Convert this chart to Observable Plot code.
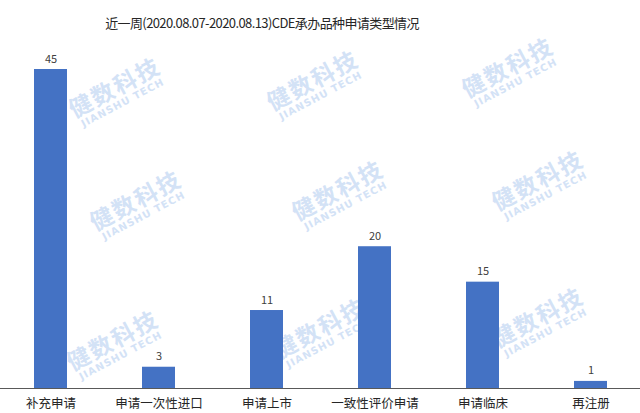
<!DOCTYPE html>
<html>
<head>
<meta charset="utf-8">
<script src="https://cdn.jsdelivr.net/npm/d3@7"></script>
<script src="https://cdn.jsdelivr.net/npm/@observablehq/plot@0.6"></script>
<style>
  html, body { margin: 0; padding: 0; background: #fff; }
  #wrap { position: relative; width: 640px; height: 413px; overflow: hidden; font-family: "Noto Sans CJK SC", "Noto Sans", sans-serif; }
  #head { position: relative; height: 40px; }
  #title { position: absolute; left: 262px; top: 22px; transform: translate(-50%, -50%); white-space: nowrap; font-size: 13px; color: #262626; letter-spacing: -0.6px; }
  #chart svg { display: block; }
  .wm { position: absolute; transform: translate(-50%, -50%) rotate(-28deg); color: #d3e2f6; text-align: center; pointer-events: none; line-height: 1; white-space: nowrap; }
  .wm .cn { font-size: 23px; font-weight: 700; letter-spacing: 2px; }
  .wm .en { font-size: 10px; font-weight: 700; font-family: "DejaVu Sans", sans-serif; letter-spacing: 1px; margin-top: 2px; }
</style>
</head>
<body>
<div id="wrap">
  <div id="head"><div id="title">近一周(2020.08.07-2020.08.13)CDE承办品种申请类型情况</div></div>
  <div id="chart"></div>
</div>
<script>
// Application types and weekly counts
const categories = ["补充申请", "申请一次性进口", "申请上市", "一致性评价申请", "申请临床", "再注册"];
const counts = [45, 3, 11, 20, 15, 1];

const rows = categories.map((c, i) => ({category: c, count: counts[i]}));

// Brand watermark tiles (centres in page pixels), drawn under the bars
const marks = [[117, 92], [315, 85], [510, 72], [138, 205], [340, 195], [540, 185], [115, 345], [322, 333], [540, 322]];
const wrap = document.getElementById("wrap");
for (const [x, y] of marks) {
  const d = document.createElement("div");
  d.className = "wm";
  d.style.left = x + "px";
  d.style.top = y + "px";
  d.innerHTML = '<div class="cn">健数科技</div><div class="en">JIANSHU TECH</div>';
  wrap.insertBefore(d, wrap.firstChild);
}

const chart = Plot.plot({
  width: 640,
  height: 373,
  marginTop: 29,
  marginBottom: 25,
  marginLeft: 0,
  marginRight: 0,
  style: {fontFamily: "'Noto Sans CJK SC', 'Noto Sans', sans-serif", background: "transparent", position: "relative"},
  x: {domain: categories, range: [-4, 645], paddingInner: 0.69, paddingOuter: 0.345},
  y: {domain: [0, 45], axis: null},
  marks: [
    Plot.barY(rows, {x: "category", y: "count", fill: "#4472C4"}),
    Plot.ruleY([0], {stroke: "#595959", strokeWidth: 1}),
    Plot.text(rows, {x: "category", y: "count", text: d => String(d.count), dy: -7, lineAnchor: "bottom", fontSize: 11, fill: "#404040"}),
    Plot.axisX({tickSize: 0, tickPadding: 11, fontSize: 12.5, color: "#262626", label: null})
  ]
});
document.getElementById("chart").appendChild(chart);
</script>
</body>
</html>
